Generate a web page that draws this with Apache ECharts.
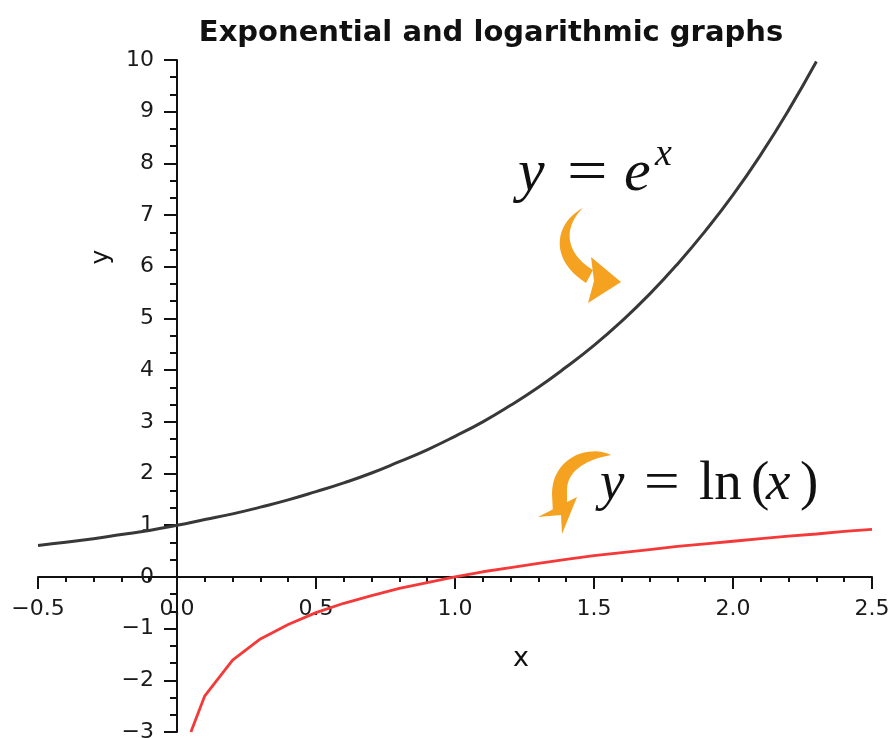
<!DOCTYPE html>
<html>
<head>
<meta charset="utf-8">
<script src="https://cdn.jsdelivr.net/npm/echarts@6/dist/echarts.min.js"></script>
<style>
html,body{margin:0;padding:0;background:#fff;}
#chart{width:894px;height:738px;}
</style>
</head>
<body>
<div id="chart"></div>
<script>
// x samples and read-off values
var expX = [-0.5,-0.4,-0.3,-0.2,-0.1,0,0.1,0.2,0.3,0.4,0.5,0.6,0.7,0.8,0.9,1.0,1.1,1.2,1.3,1.4,1.5,1.6,1.7,1.8,1.9,2.0,2.1,2.2,2.3];
var expY = [0.61,0.67,0.74,0.82,0.90,1.00,1.11,1.22,1.35,1.49,1.65,1.82,2.01,2.23,2.46,2.72,3.00,3.32,3.67,4.06,4.48,4.95,5.47,6.05,6.69,7.39,8.17,9.03,9.97];
var lnX = [0.05,0.1,0.2,0.3,0.4,0.5,0.6,0.7,0.8,0.9,1.0,1.1,1.2,1.3,1.4,1.5,1.6,1.7,1.8,1.9,2.0,2.1,2.2,2.3,2.4,2.5];
var lnY = [-3.0,-2.30,-1.61,-1.20,-0.92,-0.69,-0.51,-0.36,-0.22,-0.11,0,0.10,0.18,0.26,0.34,0.41,0.47,0.53,0.59,0.64,0.69,0.74,0.79,0.83,0.88,0.92];
var titleText = 'Exponential and logarithmic graphs';
var xName = 'x', yName = 'y';

function zip(a, b){ return a.map(function(v,i){ return [v, b[i]]; }); }
function fmtX(v){ return (v < 0 ? '\u2212' : '') + Math.abs(v).toFixed(1); }
function fmtY(v){ return (v < 0 ? '\u2212' : '') + Math.abs(v); }

// cubic bezier sampler for the decorative arrows
function bez(p0, p1, p2, p3, n){
  var out = [];
  for (var i = 0; i <= n; i++){
    var t = i / n, u = 1 - t;
    out.push([
      u*u*u*p0[0] + 3*u*u*t*p1[0] + 3*u*t*t*p2[0] + t*t*t*p3[0],
      u*u*u*p0[1] + 3*u*u*t*p1[1] + 3*u*t*t*p2[1] + t*t*t*p3[1]
    ]);
  }
  return out;
}

var FONT = 'DejaVu Sans';
var MATH = 'Liberation Serif';
var ORANGE = '#F5A221';
var INK = '#111';

function mtext(x, y, txt, size, italic, sx){
  return {type: 'text', x: x, y: y, scaleX: sx || 1,
    style: {text: txt, font: (italic ? 'italic ' : '') + size + 'px "' + MATH + '"', fill: INK, align: 'left', verticalAlign: 'middle'}};
}

var arrow1Body = bez([583,208],[556,222],[547,258],[586,283],24)
  .concat(bez([593,270],[566,254],[562,228],[583,208],24));
var arrow1Head = [[591,257],[621,282],[588,303],[594,281]];
var arrow2Body = bez([611,455],[588,444],[552,458],[552,494],24)
  .concat([[553,514],[567,508]])
  .concat(bez([567,492],[566,472],[584,460],[611,455],24));
var arrow2Head = [[538,517],[577,497],[562,534],[561,515]];

var GRID = {left: 38, right: 22, top: 60, bottom: 6, containLabel: false, outerBoundsMode: 'none'};

var chart = echarts.init(document.getElementById('chart'), null, {renderer:'canvas'});
chart.setOption({
  animation: false,
  backgroundColor: '#ffffff',
  grid: GRID,
  xAxis: {
    type: 'value', min: -0.5, max: 2.5, interval: 0.5, position: 'bottom', offset: 0,
    axisLine: {show: true, onZero: false, lineStyle: {color: INK, width: 2}},
    axisTick: {show: true, length: 12, lineStyle: {color: INK, width: 2}},
    minorTick: {show: true, splitNumber: 5, length: 5, lineStyle: {color: INK, width: 2}},
    splitLine: {show: false},
    axisLabel: {formatter: fmtX, fontFamily: FONT, fontSize: 22, color: '#1a1a1a', margin: 21}
  },
  yAxis: {
    type: 'value', min: -3, max: 10, interval: 1, position: 'left', offset: 0,
    axisLine: {show: true, onZero: false, lineStyle: {color: INK, width: 2}},
    axisTick: {show: true, length: 13, lineStyle: {color: INK, width: 2}},
    minorTick: {show: true, splitNumber: 3, length: 7, lineStyle: {color: INK, width: 2}},
    splitLine: {show: false},
    axisLabel: {formatter: fmtY, fontFamily: FONT, fontSize: 22, color: '#1a1a1a', margin: 23}
  },
  series: [
    {type: 'line', data: zip(expX, expY), smooth: true, showSymbol: false,
     lineStyle: {color: '#383838', width: 3}, z: 3},
    {type: 'line', data: zip(lnX, lnY), smooth: false, showSymbol: false,
     lineStyle: {color: '#f53838', width: 2.8}, z: 3}
  ],
  graphic: [
    {type: 'text', x: 491, y: 19, style: {text: titleText, font: 'bold 29px "' + FONT + '"', fill: INK, align: 'center', verticalAlign: 'top'}},
    {type: 'text', x: 521, y: 659, style: {text: xName, font: '27px "' + FONT + '"', fill: INK, align: 'center', verticalAlign: 'middle'}},
    {type: 'text', x: 101, y: 257, rotation: Math.PI/2, style: {text: yName, font: '25px "' + FONT + '"', fill: INK, align: 'center', verticalAlign: 'middle'}},
    // y = e^x
    mtext(518, 174, 'y', 60, true),
    mtext(567, 174, '=', 60, false, 1.2),
    mtext(624, 174, 'e', 60, true),
    mtext(655, 155, 'x', 38, true),
    // y = ln(x)
    mtext(600, 485, 'y', 55, true),
    mtext(644, 485, '=', 55, false, 1.15),
    mtext(699, 485, 'ln', 55, false),
    mtext(751, 485, '(', 55, false),
    mtext(766, 485, 'x', 55, true),
    mtext(800, 485, ')', 55, false),
    // orange arrows
    {type: 'polygon', shape: {points: arrow1Body}, style: {fill: ORANGE}},
    {type: 'polygon', shape: {points: arrow1Head}, style: {fill: ORANGE}},
    {type: 'polygon', shape: {points: arrow2Body}, style: {fill: ORANGE}},
    {type: 'polygon', shape: {points: arrow2Head}, style: {fill: ORANGE}}
  ]
});

// Move both axes so they cross at the origin, using the library's own scales.
var origin = chart.convertToPixel({gridIndex: 0}, [0, 0]);
var gridRect = chart.getModel().getComponent('grid', 0).coordinateSystem.getRect();
var gridBottom = gridRect.y + gridRect.height;
var gridLeft = gridRect.x;
chart.setOption({
  xAxis: {offset: origin[1] - gridBottom},
  yAxis: {offset: gridLeft - origin[0]}
});
</script>
</body>
</html>
